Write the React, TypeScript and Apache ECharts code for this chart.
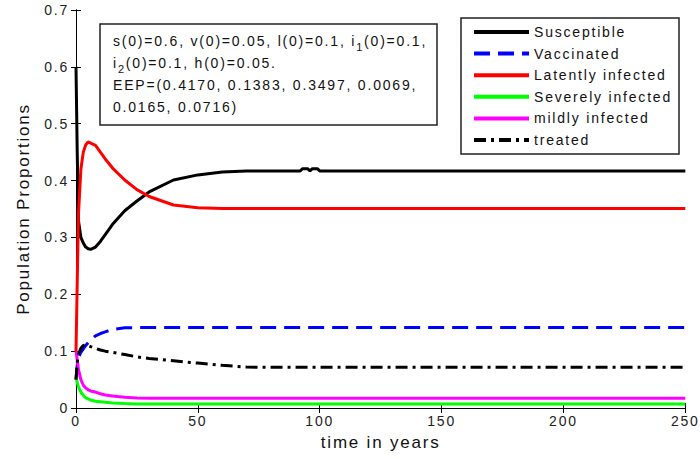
import React, { useEffect, useRef } from 'react';
import * as echarts from 'echarts';

const times = [0, 0.5, 1, 2, 3, 4, 5, 6, 8, 10, 12, 15, 20, 25, 30, 40, 50, 60, 70, 80, 92, 93, 95, 96, 97, 99, 100, 150, 200, 250];
const susceptible = [0.6, 0.45, 0.33, 0.30, 0.29, 0.283, 0.28, 0.279, 0.283, 0.293, 0.305, 0.323, 0.347, 0.364, 0.38, 0.401, 0.41, 0.415, 0.417, 0.417, 0.417, 0.421, 0.421, 0.417, 0.421, 0.421, 0.417, 0.417, 0.417, 0.417];
const vaccinated = [0.05, 0.075, 0.088, 0.098, 0.104, 0.11, 0.115, 0.119, 0.127, 0.131, 0.134, 0.138, 0.141, 0.1415, 0.1415, 0.1415, 0.1415, 0.1415, 0.1415, 0.1415, 0.1415, 0.1415, 0.1415, 0.1415, 0.1415, 0.1415, 0.1415, 0.1415, 0.1415, 0.1415];
const latent = [0.1, 0.22, 0.34, 0.42, 0.45, 0.463, 0.468, 0.466, 0.462, 0.45, 0.438, 0.422, 0.401, 0.384, 0.372, 0.357, 0.352, 0.351, 0.351, 0.351, 0.351, 0.351, 0.351, 0.351, 0.351, 0.351, 0.351, 0.351, 0.351, 0.351];
const severe = [0.055, 0.045, 0.037, 0.028, 0.022, 0.018, 0.016, 0.014, 0.012, 0.011, 0.01, 0.009, 0.008, 0.0072, 0.007, 0.0069, 0.0069, 0.0069, 0.0069, 0.0069, 0.0069, 0.0069, 0.0069, 0.0069, 0.0069, 0.0069, 0.0069, 0.0069, 0.0069, 0.0069];
const mild = [0.1, 0.085, 0.068, 0.05, 0.04, 0.035, 0.032, 0.03, 0.028, 0.025, 0.023, 0.021, 0.019, 0.0175, 0.0172, 0.017, 0.017, 0.017, 0.017, 0.017, 0.017, 0.017, 0.017, 0.017, 0.017, 0.017, 0.017, 0.017, 0.017, 0.017];
const treated = [0.05, 0.08, 0.095, 0.105, 0.11, 0.111, 0.11, 0.108, 0.105, 0.102, 0.1, 0.098, 0.094, 0.09, 0.087, 0.083, 0.079, 0.075, 0.072, 0.0716, 0.0716, 0.0716, 0.0716, 0.0716, 0.0716, 0.0716, 0.0716, 0.0716, 0.0716, 0.0716];

const seriesNames = ['Susceptible', 'Vaccinated', 'Latently infected', 'Severely infected', 'mildly infected', 'treated'];
const xTicks = { min: 0, max: 250, interval: 50 };
const yTicks = { min: 0, max: 0.7, interval: 0.1 };

const noteLines: { t: string; sub?: boolean }[][] = [
  [{ t: 's(0)=0.6, v(0)=0.05, l(0)=0.1, i' }, { t: '1', sub: true }, { t: '(0)=0.1,' }],
  [{ t: 'i' }, { t: '2', sub: true }, { t: '(0)=0.1, h(0)=0.05.' }],
  [{ t: 'EEP=(0.4170, 0.1383, 0.3497, 0.0069,' }],
  [{ t: '0.0165, 0.0716)' }],
];

const LS = 1.8;
const FAMILY = "'Liberation Sans', Arial, sans-serif";

function measure(text: string, size: number): number {
  const c = document.createElement('canvas');
  const ctx = c.getContext('2d') as CanvasRenderingContext2D;
  ctx.font = `${size}px ${FAMILY}`;
  return ctx.measureText(text).width + text.length * LS;
}

export default function App() {
  const ref = useRef<HTMLDivElement>(null);
  useEffect(() => {
    if (!ref.current) return;
    const chart = echarts.init(ref.current, undefined, { renderer: 'svg' });
    const mk = (arr: number[]) => times.map((t, i) => [t, arr[i]]);

    const noteTexts: any[] = [];
    noteLines.forEach((segs, li) => {
      let x = 113;
      const y = 41 + li * 22;
      segs.forEach((s) => {
        const size = s.sub ? 11 : 14;
        noteTexts.push({
          type: 'text',
          x,
          y: s.sub ? y + 6 : y,
          style: { text: s.t, fontSize: size, fontFamily: FAMILY, fill: '#111', verticalAlign: 'middle', align: 'left' },
        });
        x += measure(s.t, size);
      });
    });

    const axisCommon = {
      axisLine: { show: true, lineStyle: { color: '#000', width: 1 } },
      axisTick: { show: true, inside: true, length: 5, lineStyle: { color: '#000' } },
      splitLine: { show: false },
    };
    const labelStyle = { fontSize: 14, fontFamily: FAMILY, color: '#222' };
    const nameStyle = { fontSize: 17, fontFamily: FAMILY, color: '#111' };

    const lineSeries = (name: string, data: number[], color: string, type: any) => ({
      name,
      type: 'line',
      data: mk(data),
      showSymbol: false,
      symbol: 'none',
      lineStyle: { color, width: 3, type },
      itemStyle: { color },
    });

    chart.setOption({
      animation: false,
      backgroundColor: '#fff',
      grid: { left: 76, right: 13, top: 10, bottom: 51 },
      xAxis: [
        {
          type: 'value', ...xTicks, position: 'bottom', ...axisCommon,
          axisLabel: { ...labelStyle, margin: 6 },
          name: 'time in years', nameLocation: 'middle', nameGap: 26, nameTextStyle: nameStyle,
        },
        { type: 'value', ...xTicks, position: 'top', ...axisCommon, axisLabel: { show: false } },
      ],
      yAxis: [
        {
          type: 'value', ...yTicks, position: 'left', ...axisCommon,
          axisLabel: { ...labelStyle, margin: 7, formatter: (v: number) => (v === 0 ? '0' : v.toFixed(1)) },
          name: 'Population Proportions', nameLocation: 'middle', nameGap: 44, nameRotate: 90, nameTextStyle: nameStyle,
        },
        { type: 'value', ...yTicks, position: 'right', ...axisCommon, axisLabel: { show: false } },
      ],
      legend: {
        orient: 'vertical',
        left: 472,
        top: 25,
        itemWidth: 55,
        itemHeight: 14,
        itemGap: 7.6,
        padding: 0,
        data: seriesNames,
        textStyle: { fontSize: 14, fontFamily: FAMILY, color: '#111' },
        lineStyle: { width: 4 },
        itemStyle: { opacity: 0, borderWidth: 0 },
        z: 6,
      },
      graphic: [
        {
          type: 'rect', z: 5,
          shape: { x: 461, y: 18, width: 218, height: 136 },
          style: { fill: '#fff', stroke: '#222', lineWidth: 1.5 },
        },
        {
          type: 'group', z: 5,
          children: [
            { type: 'rect', shape: { x: 100, y: 24, width: 337, height: 101 }, style: { fill: '#fff', stroke: '#222', lineWidth: 1.5 } },
            ...noteTexts,
          ],
        },
      ],
      series: [
        lineSeries(seriesNames[0], susceptible, '#000000', 'solid'),
        lineSeries(seriesNames[1], vaccinated, '#0000ff', [16, 8]),
        lineSeries(seriesNames[2], latent, '#ff0000', 'solid'),
        lineSeries(seriesNames[3], severe, '#00ff00', 'solid'),
        lineSeries(seriesNames[4], mild, '#ff00ff', 'solid'),
        lineSeries(seriesNames[5], treated, '#000000', [12, 5, 3, 5]),
      ],
    });
    return () => chart.dispose();
  }, []);

  return (
    <>
      <style>{`#chart-box text { letter-spacing: ${LS}px; }`}</style>
      <div id="chart-box" ref={ref} style={{ position: 'fixed', left: 0, top: 0, width: 700, height: 459 }} />
    </>
  );
}
